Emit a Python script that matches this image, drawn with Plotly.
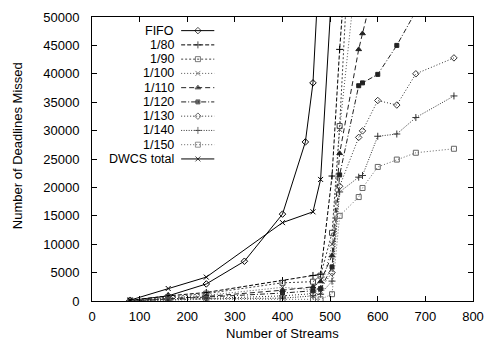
import plotly.graph_objects as go

# ---- data ----
fifo_x = [80, 160, 240, 320, 400, 448, 464, 480]
fifo_y = [100, 900, 3000, 7000, 15300, 28000, 38400, 64000]

dwcs_x = [80, 160, 240, 400, 464, 480, 512]
dwcs_y = [150, 2200, 4200, 13800, 15700, 21400, 67000]

s80_x = [80, 160, 240, 400, 464, 480, 504, 520, 560]
s80_y = [100, 900, 1500, 3600, 4500, 4700, 22000, 44300, 90000]

s90_x = [80, 160, 240, 400, 464, 480, 504, 520, 560]
s90_y = [80, 700, 1300, 3200, 3400, 4470, 12000, 30800, 95000]

s100_x = [80, 160, 240, 400, 464, 480, 504, 520, 560]
s100_y = [50, 500, 1000, 2400, 2000, 1500, 10000, 30200, 62000]

s110_x = [80, 160, 240, 400, 464, 480, 504, 520, 560, 568, 600]
s110_y = [30, 400, 800, 1900, 2500, 3440, 8000, 26000, 44300, 47100, 58000]

s120_x = [80, 160, 240, 400, 464, 480, 504, 520, 560, 568, 600, 640, 680]
s120_y = [0, 300, 700, 1400, 1800, 2200, 6000, 22200, 37900, 38400, 39900, 45000, 51000]

s130_x = [80, 160, 240, 400, 464, 480, 504, 520, 560, 568, 600, 640, 680, 760]
s130_y = [0, 200, 500, 900, 1300, 2180, 5000, 20200, 28800, 29950, 35300, 34500, 40000, 42800]

s140_x = [80, 160, 240, 400, 464, 480, 504, 520, 560, 568, 600, 640, 680, 760]
s140_y = [0, 150, 400, 500, 900, 1200, 3500, 19200, 21800, 22100, 29000, 29400, 32300, 36100]

s150_x = [80, 160, 240, 400, 464, 480, 504, 520, 560, 568, 600, 640, 680, 760]
s150_y = [0, 100, 300, 300, 200, 300, 1200, 15000, 18300, 19900, 23600, 24900, 26100, 26800]

labels = ["FIFO", "1/80", "1/90", "1/100", "1/110", "1/120", "1/130", "1/140", "1/150", "DWCS total"]
xs = [fifo_x, s80_x, s90_x, s100_x, s110_x, s120_x, s130_x, s140_x, s150_x, dwcs_x]
ys = [fifo_y, s80_y, s90_y, s100_y, s110_y, s120_y, s130_y, s140_y, s150_y, dwcs_y]

styles = [
    dict(color="#000000", dash="solid", symbol="diamond-open", size=5),
    dict(color="#000000", dash="4px,2px", symbol="cross-thin-open", size=5),
    dict(color="#444444", dash="2px,2px", symbol="square-open", size=5),
    dict(color="#555555", dash="1px,2px", symbol="x-thin-open", size=5),
    dict(color="#222222", dash="5px,3px", symbol="triangle-up", size=5),
    dict(color="#222222", dash="5px,2px,1px,2px", symbol="square", size=4),
    dict(color="#333333", dash="1px,2px", symbol="diamond-open", size=5),
    dict(color="#333333", dash="1px,1.5px", symbol="cross-thin-open", size=5),
    dict(color="#666666", dash="1px,2px", symbol="square-open", size=5),
    dict(color="#000000", dash="solid", symbol="x-thin-open", size=5),
]

FONT = "Liberation Sans, Arial, sans-serif"
FS = 13
LFS = 12.5

fig = go.Figure()

for lab, x, y, st in zip(labels, xs, ys, styles):
    fig.add_trace(go.Scatter(
        x=x, y=y, mode="lines+markers", name=lab, showlegend=False,
        line=dict(color=st["color"], width=1, dash=st["dash"]),
        marker=dict(symbol=st["symbol"], size=st["size"], color=st["color"],
                    line=dict(color=st["color"], width=1)),
    ))

# ---- legend (gnuplot style: text then sample), on a hidden overlay axis ----
leg_x0, leg_xm, leg_x1 = 0.234, 0.278, 0.321
leg_text_x = 0.221
leg_top = 0.952
leg_step = 0.0502
annotations = []
for i, (lab, st) in enumerate(zip(labels, styles)):
    yy = leg_top - i * leg_step
    fig.add_trace(go.Scatter(
        x=[leg_x0, leg_xm, leg_x1], y=[yy, yy, yy], xaxis="x2", yaxis="y2",
        mode="lines+markers", showlegend=False, hoverinfo="skip",
        line=dict(color=st["color"], width=1, dash=st["dash"]),
        marker=dict(symbol=st["symbol"], size=[0, st["size"], 0], color=st["color"],
                    line=dict(color=st["color"], width=1)),
    ))
    annotations.append(dict(
        x=leg_text_x, y=yy, xref="paper", yref="paper", text=lab, showarrow=False,
        xanchor="right", yanchor="middle", font=dict(family=FONT, size=LFS, color="black"),
    ))

annotations.append(dict(
    x=0.499, y=-0.1134, xref="paper", yref="paper", text="Number of Streams",
    showarrow=False, xanchor="center", yanchor="middle",
    font=dict(family=FONT, size=FS, color="black"),
))
annotations.append(dict(
    x=-0.1936, y=0.546, xref="paper", yref="paper", text="Number of Deadlines Missed",
    showarrow=False, xanchor="center", yanchor="middle", textangle=-90,
    font=dict(family=FONT, size=FS, color="black"),
))

axis_common = dict(
    showline=True, linecolor="black", linewidth=1, mirror="ticks",
    ticks="inside", ticklen=5, tickcolor="black", tickwidth=1,
    showgrid=False, zeroline=False,
    tickfont=dict(family=FONT, size=FS, color="black"),
)

fig.update_layout(
    width=494, height=345,
    margin=dict(l=92, r=13, t=10, b=44),
    paper_bgcolor="white", plot_bgcolor="white",
    xaxis=dict(range=[0, 800], dtick=100, tick0=0, ticklabelstandoff=3, **axis_common),
    yaxis=dict(range=[0, 50000], dtick=5000, tick0=0, tickformat="d",
               ticklabelstandoff=9, **axis_common),
    xaxis2=dict(range=[0, 1], overlaying="x", visible=False, fixedrange=True),
    yaxis2=dict(range=[0, 1], overlaying="y", visible=False, fixedrange=True),
    annotations=annotations,
)

fig.write_html("out.html")
